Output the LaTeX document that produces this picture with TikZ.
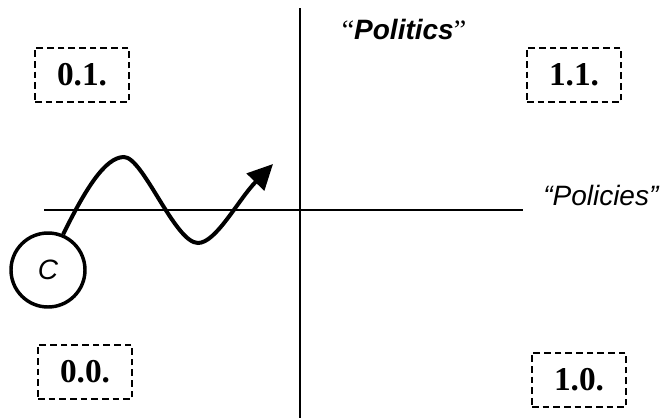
\documentclass[tikz,border=0pt]{standalone}
\usepackage{fontspec}
\setmainfont{Liberation Serif}
\setsansfont{Liberation Sans}
\usetikzlibrary{arrows.meta}
\tikzset{
  quadbox/.style={rectangle, draw, dash pattern=on 5pt off 3pt, line width=1.6pt,
                  minimum width=70.5pt, minimum height=41pt, inner sep=0pt,
                  font=\fontsize{25}{29}\selectfont\bfseries},
  axisline/.style={line width=2.2pt},
  axlabel/.style={inner sep=0pt, font=\fontsize{21}{25}\selectfont\sffamily\itshape},
  actor/.style={circle, draw, line width=2.6pt, minimum size=55.5pt, inner sep=0pt,
                font=\fontsize{21}{25}\selectfont\sffamily\itshape},
  pathline/.style={line width=3pt, -{Triangle[length=19pt,width=18pt]}},
}
\begin{document}
\begin{tikzpicture}[x=0.75pt,y=-0.75pt]
  \useasboundingbox (0,0) rectangle (667,418);
  % axes
  \coordinate (vtop) at (300,8);
  \coordinate (vbot) at (300,418);
  \coordinate (hleft) at (44,210);
  \coordinate (hright) at (523,210);
  \draw[axisline] (vtop) -- (vbot);
  \draw[axisline] (hleft) -- (hright);
  \node[axlabel, anchor=west] (policies) at (543,195) {“Policies”};
  \node[inner sep=0pt, font=\fontsize{21}{25}\selectfont] (politics) at (404,29)
    {“\textsf{\bfseries\itshape Politics}”};
  % quadrants
  \node[quadbox] (q01) at (82,75) {0.1.};
  \node[quadbox] (q11) at (574,75) {1.1.};
  \node[quadbox] (q00) at (85,372) {0.0.};
  \node[quadbox] (q10) at (579,380) {1.0.};
  % actor and its path
  \node[actor] (C) at (48,270) {C};
  \coordinate (goal) at (273,164);
  \draw[pathline] (C.67) .. controls (85,190) and (105,157) .. (124,157)
    .. controls (143,157) and (175,243) .. (198,243)
    .. controls (216,243) and (238,200) .. (goal);
\end{tikzpicture}
\end{document}
